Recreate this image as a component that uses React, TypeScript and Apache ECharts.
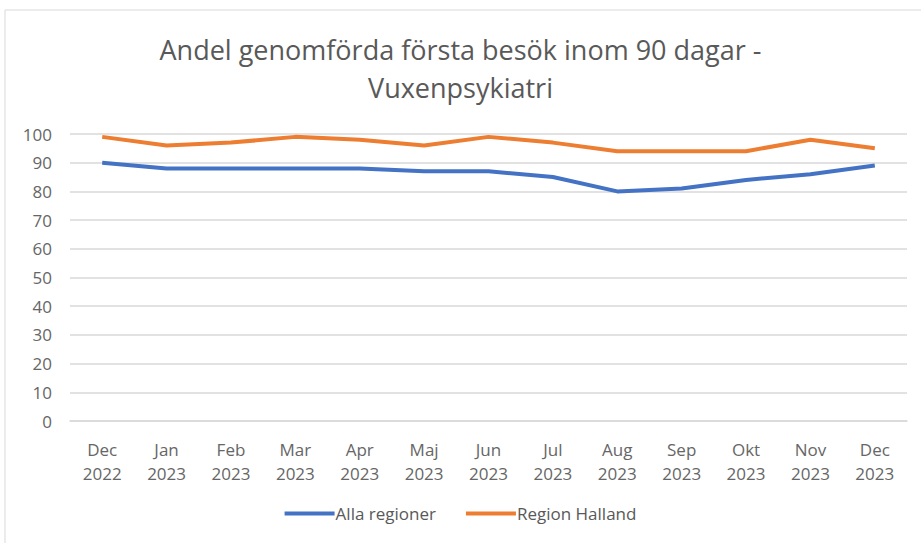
import React, { useEffect, useRef } from "react";
import * as echarts from "echarts";

const categories = [
  "Dec\n2022", "Jan\n2023", "Feb\n2023", "Mar\n2023", "Apr\n2023", "Maj\n2023", "Jun\n2023",
  "Jul\n2023", "Aug\n2023", "Sep\n2023", "Okt\n2023", "Nov\n2023", "Dec\n2023",
];
const allaRegioner = [90, 88, 88, 88, 88, 87, 87, 85, 80, 81, 84, 86, 89];
const regionHalland = [99, 96, 97, 99, 98, 96, 99, 97, 94, 94, 94, 98, 95];

const FONT = "'Open Sans', 'Noto Sans', sans-serif";

export default function App() {
  const ref = useRef<HTMLDivElement>(null);
  useEffect(() => {
    if (!ref.current) return;
    const chart = echarts.init(ref.current, undefined, { renderer: "svg" });
    chart.setOption({
      animation: false,
      backgroundColor: "#ffffff",
      graphic: [
        {
          type: "rect",
          shape: { x: 5, y: 10, width: 930, height: 560 },
          style: { fill: "none", stroke: "#d9d9d9", lineWidth: 1 },
          silent: true,
        },
      ],
      title: {
        text: "Andel genomförda första besök inom 90 dagar -\nVuxenpsykiatri",
        left: "center",
        top: 25,
        textStyle: {
          fontFamily: FONT,
          fontSize: 27,
          fontWeight: "normal",
          color: "#595959",
          lineHeight: 38,
        },
      },
      legend: {
        bottom: 16,
        left: "center",
        itemWidth: 50,
        itemHeight: 4,
        itemGap: 30,
        icon: "rect",
        textStyle: { fontFamily: FONT, fontSize: 17, color: "#595959", padding: [0, 0, 0, -4] },
        data: ["Alla regioner", "Region Halland"],
      },
      grid: { left: 70, right: 14, top: 134, bottom: 122, containLabel: false },
      xAxis: {
        type: "category",
        data: categories,
        boundaryGap: true,
        axisLine: { lineStyle: { color: "#d9d9d9", width: 1.5 } },
        axisTick: { show: false },
        axisLabel: {
          fontFamily: FONT,
          fontSize: 17,
          color: "#666666",
          lineHeight: 24,
          margin: 16,
          interval: 0,
        },
      },
      yAxis: {
        type: "value",
        min: 0,
        max: 100,
        interval: 10,
        axisLine: { show: false },
        axisTick: { show: false },
        splitLine: { lineStyle: { color: "#d9d9d9", width: 1.5 } },
        axisLabel: { fontFamily: FONT, fontSize: 17, color: "#666666", margin: 18 },
      },
      series: [
        {
          name: "Alla regioner",
          type: "line",
          data: allaRegioner,
          symbol: "none",
          lineStyle: { color: "#4472c4", width: 4 },
          itemStyle: { color: "#4472c4" },
        },
        {
          name: "Region Halland",
          type: "line",
          data: regionHalland,
          symbol: "none",
          lineStyle: { color: "#ed7d31", width: 4 },
          itemStyle: { color: "#ed7d31" },
        },
      ],
    });
    return () => chart.dispose();
  }, []);
  return (
    <div
      ref={ref}
      style={{ position: "fixed", left: 0, top: 0, width: 921, height: 543 }}
    />
  );
}
